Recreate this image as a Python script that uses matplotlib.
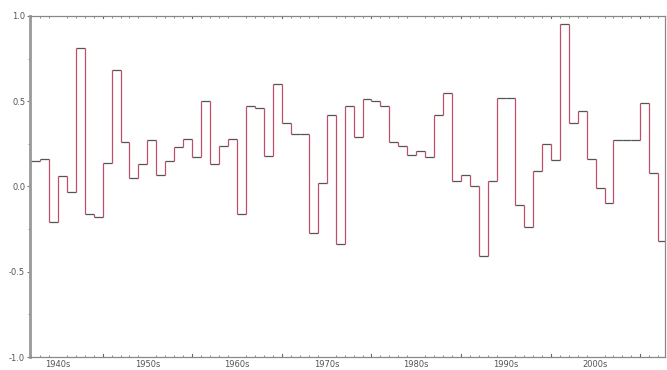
import numpy as np
import matplotlib
matplotlib.use("Agg")
import matplotlib.pyplot as plt
from matplotlib.ticker import MultipleLocator, FixedLocator

# one value per year, 1942 .. 2012
years = list(range(1942, 2013))
values = [0.15, 0.16, -0.21, 0.06, -0.03, 0.81, -0.16, -0.18,
          0.14, 0.68, 0.26, 0.05, 0.13, 0.27, 0.07, 0.15, 0.23, 0.28,
          0.17, 0.50, 0.13, 0.24, 0.28, -0.16, 0.47, 0.46, 0.18, 0.60,
          0.37, 0.31, 0.31, -0.27, 0.02, 0.42, -0.34, 0.47, 0.29, 0.51,
          0.50, 0.47, 0.26, 0.24, 0.185, 0.21, 0.175, 0.42, 0.55, 0.03,
          0.07, 0.00, -0.41, 0.03, 0.52, 0.52, -0.11, -0.24, 0.09, 0.25,
          0.155, 0.95, 0.37, 0.44, 0.16, -0.01, -0.095, 0.27, 0.27, 0.27,
          0.49, 0.08, -0.32]
decades = [1940, 1950, 1960, 1970, 1980, 1990, 2000]
decade_labels = ["1940s", "1950s", "1960s", "1970s", "1980s", "1990s", "2000s"]

x = np.array(years, dtype=float)
v = np.array(values)

fig = plt.figure(figsize=(6.67, 3.70), dpi=100)
ax = fig.add_axes([0.045, 0.035, 0.952, 0.922])

# horizontal parts dark grey, vertical jumps red
ax.hlines(v, x, x + 1, color="#555555", lw=0.9)
ax.vlines(x[1:], v[:-1], v[1:], color="#c0506a", lw=0.9)

ax.set_xlim(1941.9, 2012.75)
ax.set_ylim(-1.0, 1.0)

ax.yaxis.set_major_locator(MultipleLocator(0.5))
ax.yaxis.set_minor_locator(MultipleLocator(0.25))
ax.set_yticklabels([])
ax.set_yticks([-1.0, -0.5, 0.0, 0.5, 1.0])
ax.set_yticklabels(["-1.0", "-0.5", "0.0", "0.5", "1.0"])

mids = [d + 5 for d in decades]
ax.xaxis.set_major_locator(FixedLocator(mids))
ax.set_xticklabels(decade_labels)
ax.xaxis.set_minor_locator(MultipleLocator(1))
ax.tick_params(axis="x", which="major", length=0, pad=2, labelsize=6,
               labelcolor="#555555", top=True)
ax.tick_params(axis="x", which="minor", length=1.5, direction="in",
               top=True, bottom=True, color="#777777")
ax.tick_params(axis="y", which="major", length=2.5, pad=1, labelsize=6,
               labelcolor="#555555", color="#777777")
ax.tick_params(axis="y", which="minor", length=1.5, color="#777777")

# larger marks on the decade boundaries
for d in decades[1:] + [2010]:
    ax.plot([d, d], [1.0, 0.985], color="#666666", lw=0.8, clip_on=False)
    ax.plot([d, d], [-1.0, -0.985], color="#666666", lw=0.8, clip_on=False)

for side in ["top", "bottom", "right"]:
    ax.spines[side].set_color("#888888")
    ax.spines[side].set_linewidth(0.9)
ax.spines["left"].set_color("#999999")
ax.spines["left"].set_linewidth(2)

fig.savefig("out.png", dpi=100)
